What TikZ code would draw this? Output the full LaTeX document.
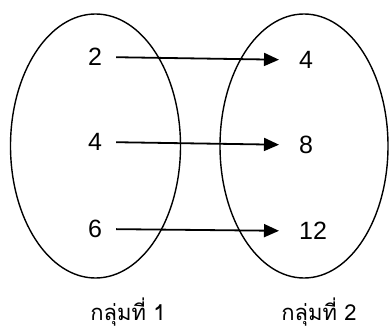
\documentclass[tikz,border=0pt]{standalone}
\usepackage{fontspec}
\setmainfont{Liberation Sans}
\newfontfamily\thaifont[Script=Thai]{Loma}
\usetikzlibrary{arrows.meta}
\tikzset{
  setshape/.style={draw, line width=1.4pt},
  num/.style={inner sep=0pt, font=\fontsize{25}{27}\selectfont},
  grp/.style={inner sep=0pt, anchor=base, font=\thaifont\fontsize{22}{24}\selectfont},
  mapto/.style={-{Triangle[length=15pt, width=13pt]}, line width=1.8pt,
    shorten <=14pt, shorten >=20pt},
}
\begin{document}
\begin{tikzpicture}[x=1pt, y=-1pt]
    \useasboundingbox (0,0) rectangle (390,329);
    % the two sets
    \draw[setshape] (95.5,146) ellipse [x radius=85pt, y radius=132pt];
    \draw[setshape] (304,146) ellipse [x radius=84pt, y radius=132pt];
    % elements
    \node[num] (a2) at (95,57) {2};
    \node[num] (a4) at (95,142) {4};
    \node[num] (a6) at (95,229) {6};
    \node[num, anchor=west] (b4) at (299,60) {4};
    \node[num, anchor=west] (b8) at (299,145) {8};
    \node[num, anchor=west] (b12) at (299,231) {12};
    % mapping
    \draw[mapto] (a2.east) -- (b4.west);
    \draw[mapto] (a4.east) -- (b8.west);
    \draw[mapto] (a6.east) -- (b12.west);
    % names
    \node[grp] (g1) at (128,320) {กลุ่มที่ 1};
    \node[grp] (g2) at (319,320) {กลุ่มที่ 2};
\end{tikzpicture}
\end{document}
